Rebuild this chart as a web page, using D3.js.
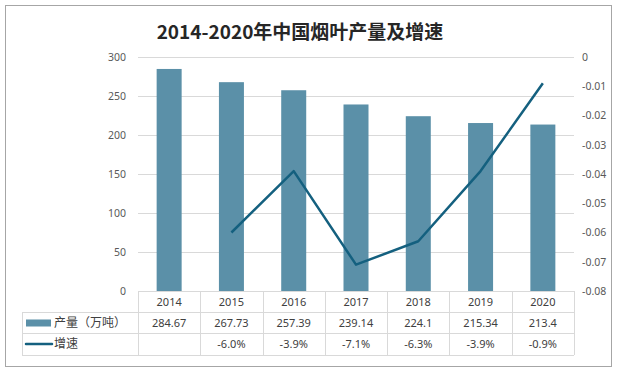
<!DOCTYPE html>
<html>
<head>
<meta charset="utf-8">
<script src="https://cdn.jsdelivr.net/npm/d3@7"></script>
<style>
  body { margin: 0; background: #fff; }
  text { font-family: "Noto Sans", "Noto Sans CJK SC", sans-serif; }
</style>
</head>
<body>
<div id="chart"></div>
<script>
// data
var years = ["2014", "2015", "2016", "2017", "2018", "2019", "2020"];
var output = [284.67, 267.73, 257.39, 239.14, 224.1, 215.34, 213.4];
var growth = [null, -0.060, -0.039, -0.071, -0.063, -0.039, -0.009];
var leftTicks = [0, 50, 100, 150, 200, 250, 300];
var rightTicks = [0, -0.01, -0.02, -0.03, -0.04, -0.05, -0.06, -0.07, -0.08];

var W = 617, H = 372;
var plot = { left: 138, right: 574, top: 57, bottom: 291 };
var rowH = [21, 21, 22];

// plain hyphen for negatives, like the original
var loc = d3.formatLocale({ decimal: ".", thousands: ",", grouping: [3], currency: ["", ""], minus: "-" });

var svg = d3.select("#chart").append("svg")
    .attr("width", W)
    .attr("height", H);

// outer frame
svg.append("rect")
    .attr("x", 5.5).attr("y", 5.5)
    .attr("width", 606).attr("height", 361)
    .attr("fill", "#fff")
    .attr("stroke", "#a6a6a6");

svg.append("text")
    .attr("x", 300).attr("y", 39)
    .attr("text-anchor", "middle")
    .attr("font-size", 19)
    .attr("font-weight", "bold")
    .attr("fill", "#262626")
    .style("font-family", "'Noto Sans CJK SC', sans-serif")
    .text("2014-2020年中国烟叶产量及增速");

var x = d3.scaleBand().domain(years).range([plot.left, plot.right]).paddingInner(0).paddingOuter(0);
var yL = d3.scaleLinear().domain([0, 300]).range([plot.bottom, plot.top]);
var yR = d3.scaleLinear().domain([-0.08, 0]).range([plot.bottom, plot.top]);

// gridlines
svg.append("g")
    .selectAll("line")
    .data(leftTicks.slice(1))
    .enter().append("line")
    .attr("x1", plot.left).attr("x2", plot.right)
    .attr("y1", function(d) { return Math.round(yL(d)) + 0.5; })
    .attr("y2", function(d) { return Math.round(yL(d)) + 0.5; })
    .attr("stroke", "#d9d9d9");

// left axis
var yAxisL = d3.axisLeft(yL).tickValues(leftTicks).tickSize(0).tickPadding(0);
var gL = svg.append("g")
    .attr("transform", "translate(126,0)")
    .call(yAxisL);
gL.select(".domain").remove();
gL.selectAll("text").attr("font-size", 10.5).attr("fill", "#595959")
    .style("font-family", "'Noto Sans', sans-serif");

// right axis
var yAxisR = d3.axisRight(yR).tickValues(rightTicks).tickSize(0).tickPadding(0)
    .tickFormat(function(d) { return d === 0 ? "0" : loc.format(".2f")(d); });
var gR = svg.append("g")
    .attr("transform", "translate(582,0)")
    .call(yAxisR);
gR.select(".domain").remove();
gR.selectAll("text").attr("font-size", 10.5).attr("fill", "#595959")
    .style("font-family", "'Noto Sans', sans-serif");

// bars
var barW = 25;
svg.append("g")
    .selectAll("rect")
    .data(output)
    .enter().append("rect")
    .attr("x", function(d, i) { return x(years[i]) + x.bandwidth() / 2 - barW / 2; })
    .attr("y", function(d) { return yL(d); })
    .attr("width", barW)
    .attr("height", function(d) { return plot.bottom - yL(d); })
    .attr("fill", "#5b90a8");

// growth line
var line = d3.line()
    .defined(function(d) { return d != null; })
    .x(function(d, i) { return x(years[i]) + x.bandwidth() / 2; })
    .y(function(d) { return yR(d); });

svg.append("path")
    .datum(growth)
    .attr("d", line)
    .attr("fill", "none")
    .attr("stroke", "#14607f")
    .attr("stroke-width", 2.5)
    .attr("stroke-linejoin", "round");

// data table below the plot
var tableLeft = 22;
var r0 = plot.bottom, r1 = r0 + rowH[0], r2 = r1 + rowH[1], r3 = r2 + rowH[2];
var grid = svg.append("g").attr("stroke", "#d9d9d9").attr("shape-rendering", "crispEdges");

// horizontal rules
grid.append("line").attr("x1", plot.left).attr("x2", plot.right).attr("y1", r0 + 0.5).attr("y2", r0 + 0.5);
[r1, r2, r3].forEach(function(r) {
    grid.append("line").attr("x1", tableLeft).attr("x2", plot.right).attr("y1", r + 0.5).attr("y2", r + 0.5);
});
// vertical rules
x.domain().concat(["end"]).forEach(function(k, i) {
    var xx = i < years.length ? x(k) : plot.right;
    grid.append("line").attr("x1", xx + 0.5).attr("x2", xx + 0.5).attr("y1", r0).attr("y2", r3);
});
grid.append("line").attr("x1", tableLeft + 0.5).attr("x2", tableLeft + 0.5).attr("y1", r1).attr("y2", r3);

var cellText = function(rowTop, rowHeight, vals, fmt) {
    svg.append("g")
        .selectAll("text")
        .data(vals)
        .enter().append("text")
        .attr("x", function(d, i) { return x(years[i]) + x.bandwidth() / 2; })
        .attr("y", rowTop + rowHeight / 2 + 4)
        .attr("text-anchor", "middle")
        .attr("font-size", 11)
        .attr("fill", "#404040")
        .text(fmt);
};
cellText(r0, rowH[0], years, function(d) { return d; });
cellText(r1, rowH[1], output, function(d) { return d; });
cellText(r2, rowH[2], growth, function(d) { return d == null ? "" : loc.format(".1%")(d); });

// legend keys inside the table
svg.append("rect")
    .attr("x", 26).attr("y", r1 + rowH[1] / 2 - 3)
    .attr("width", 25).attr("height", 7)
    .attr("fill", "#5b90a8");
svg.append("text")
    .attr("x", 54).attr("y", r1 + rowH[1] / 2 + 4)
    .attr("font-size", 12).attr("fill", "#404040")
    .style("font-family", "'Noto Sans CJK SC', sans-serif")
    .text("产量（万吨）");
svg.append("line")
    .attr("x1", 26).attr("x2", 52)
    .attr("y1", r2 + rowH[2] / 2).attr("y2", r2 + rowH[2] / 2)
    .attr("stroke", "#14607f").attr("stroke-width", 2.5).attr("stroke-linecap", "round");
svg.append("text")
    .attr("x", 54).attr("y", r2 + rowH[2] / 2 + 4)
    .attr("font-size", 12).attr("fill", "#404040")
    .style("font-family", "'Noto Sans CJK SC', sans-serif")
    .text("增速");
</script>
</body>
</html>
